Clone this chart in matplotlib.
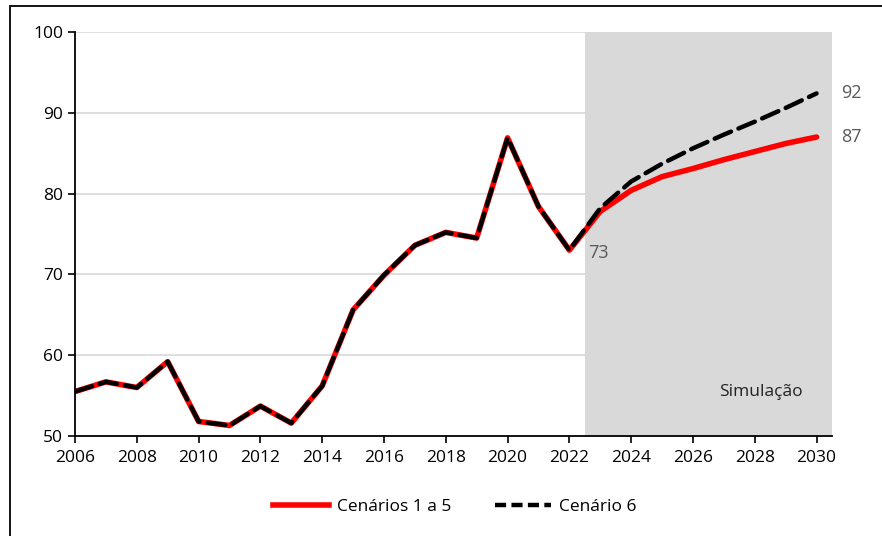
import matplotlib
matplotlib.use("Agg")
import matplotlib.pyplot as plt
from matplotlib.patches import Rectangle
from matplotlib.lines import Line2D

plt.rcParams['font.family'] = ['Open Sans', 'DejaVu Sans']

# dados
anos = list(range(2006, 2031))
cenarios_1a5 = [55.5, 56.7, 56.0, 59.2, 51.8, 51.3, 53.7, 51.6, 56.2, 65.6,
                69.9, 73.6, 75.2, 74.5, 86.9, 78.4, 73.0,
                77.8, 80.4, 82.1, 83.1, 84.2, 85.2, 86.2, 87.0]
cenario_6 = [55.5, 56.7, 56.0, 59.2, 51.8, 51.3, 53.7, 51.6, 56.2, 65.6,
             69.9, 73.6, 75.2, 74.5, 86.9, 78.4, 73.0,
             78.2, 81.5, 83.7, 85.6, 87.3, 88.9, 90.6, 92.4]
xticks = list(range(2006, 2031, 2))
yticks = [50, 60, 70, 80, 90, 100]
inicio_sim = 2022.5
fim_sim = 2030.5

fig = plt.figure(figsize=(8.82, 5.36), dpi=100)
W, H = 882, 536
ax = fig.add_axes([75 / W, 1 - 436 / H, (832 - 75) / W, (436 - 32) / H])

# moldura da figura (cortada à direita e em baixo)
fig.patches.append(Rectangle((10 / W, -0.1), 1.2, 1 - 6 / H + 0.1,
                             transform=fig.transFigure, fill=False,
                             edgecolor='black', linewidth=1.3))

ax.axvspan(inicio_sim, fim_sim, color='#d9d9d9', zorder=1, lw=0)
for y in yticks[1:]:
    ax.axhline(y, color='#d9d9d9', lw=1.2, zorder=0)

ax.plot(anos, cenarios_1a5, color='#ff0000', lw=4.0, zorder=3,
        solid_capstyle='round', solid_joinstyle='round')
ax.plot(anos, cenario_6, color='black', lw=3.2, zorder=4,
        dashes=(4, 1.8), dash_capstyle='round')

ax.set_xlim(2006, fim_sim)
ax.set_ylim(50, 100)
ax.set_xticks(xticks)
ax.set_yticks(yticks)
ax.tick_params(axis='both', labelsize=12.5, length=5, width=1.2,
               direction='out', colors='black')
ax.tick_params(axis='x', pad=5)
for s in ['top', 'right']:
    ax.spines[s].set_visible(False)
for s in ['left', 'bottom']:
    ax.spines[s].set_linewidth(1.3)
    ax.spines[s].set_zorder(5)

cinza = '#595959'
ax.text(2022.6, cenarios_1a5[16] - 0.3, '73', fontsize=13, color=cinza,
        ha='left', va='center', zorder=6)
ax.text(2030.8, cenario_6[-1], '92', fontsize=13, color=cinza,
        ha='left', va='center', clip_on=False)
ax.text(2030.8, cenarios_1a5[-1], '87', fontsize=13, color=cinza,
        ha='left', va='center', clip_on=False)
ax.text(2029.55, 55.4, 'Simulação', fontsize=12.5, color='#222222',
        ha='right', va='center', zorder=6)

handles = [Line2D([], [], color='#ff0000', lw=4.0),
           Line2D([], [], color='black', lw=3.2, dashes=(2.5, 1.2))]
fig.legend(handles, ['Cenários 1 a 5', 'Cenário 6'], loc='center',
           bbox_to_anchor=(455 / W, 1 - 507 / H), ncol=2, frameon=False,
           fontsize=12.5, handlelength=3.2, columnspacing=2.5, handletextpad=0.5)

fig.savefig('out.png', dpi=100)
